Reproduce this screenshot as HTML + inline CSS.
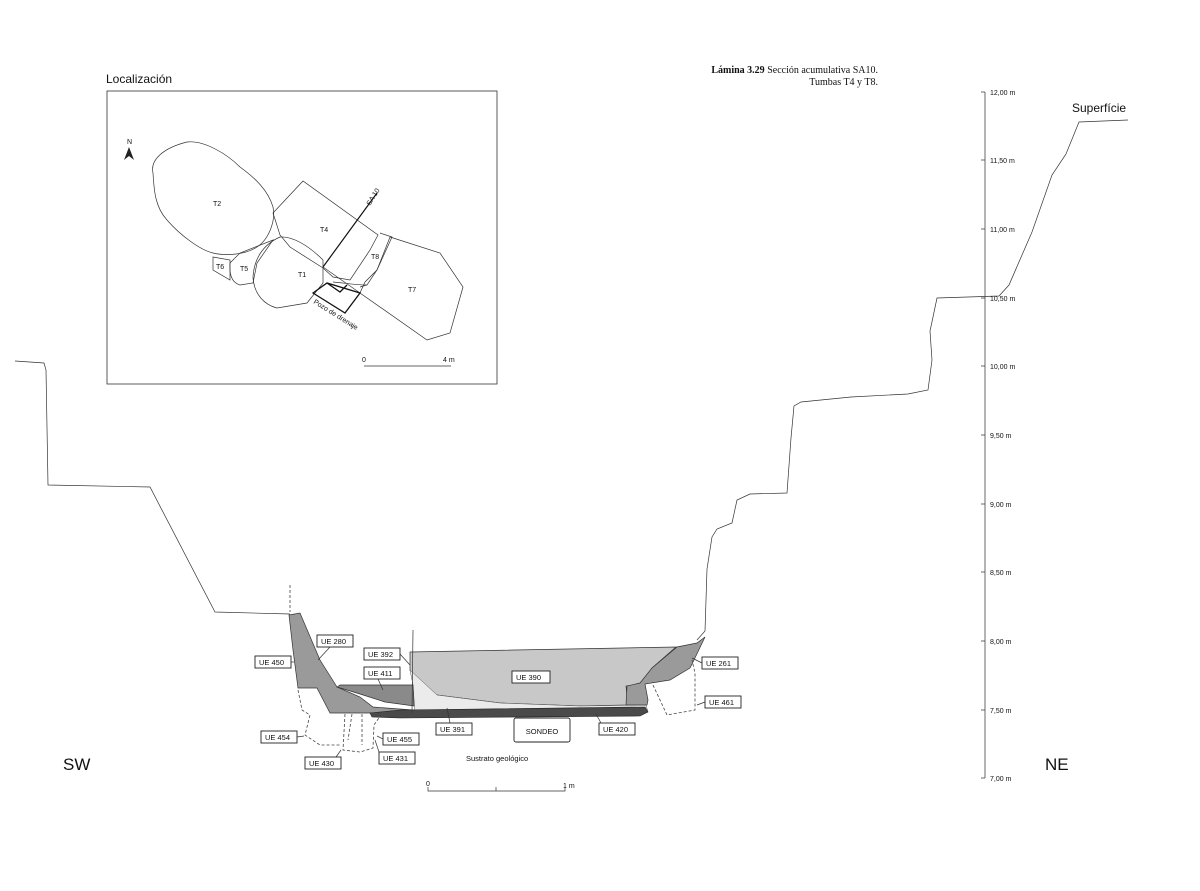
<!DOCTYPE html>
<html><head><meta charset="utf-8"><style>
html,body{margin:0;padding:0;background:#fff;}
svg{display:block;}
text{font-family:"Liberation Sans",sans-serif;fill:#111;}
.s{font-family:"Liberation Serif",serif;}
.b{fill:#fff;stroke:#222;stroke-width:0.9;}
.l{stroke:#333;stroke-width:0.7;fill:none;}
.d{stroke:#444;stroke-width:0.8;fill:none;stroke-dasharray:3,2;}
</style></head><body>
<svg width="1200" height="891" viewBox="0 0 1200 891" xmlns="http://www.w3.org/2000/svg">
<!-- title -->
<text class="s" x="878" y="73" font-size="10" text-anchor="end"><tspan font-weight="bold">Lámina 3.29</tspan>  Sección acumulativa SA10.</text>
<text class="s" x="878" y="85" font-size="10" text-anchor="end">Tumbas T4 y T8.</text>

<!-- inset -->
<text x="106" y="83" font-size="12">Localización</text>
<rect x="107" y="91" width="390" height="293" fill="none" stroke="#333" stroke-width="0.8"/>
<g fill="none" stroke="#333" stroke-width="0.7">
<path d="M153,173 C150,160 163,148 187,142 C205,140 228,155 240,167 C255,178 268,190 273,207 C276,222 268,240 257,247 C245,255 225,256 213,253 C200,250 180,235 167,220 C155,207 154,190 153,173Z"/>
<path d="M273,213 L303,181 L378,235 L370,250 L350,280 L333,277 L323,268 L290,247 L280,235 Z"/>
<path d="M253,277 C254,260 262,245 280,237 C292,236 308,245 323,260 L323,283 L307,303 L277,308 C265,305 254,295 253,277Z"/>
<path d="M230,263 L240,253 L273,240 L257,263 L253,283 L240,285 C233,283 229,276 230,263Z"/>
<path d="M213,257 L230,260 L230,280 L213,270Z"/>
<path d="M390,237 L440,253 L463,287 L450,333 L427,340 L360,293 L365,282 L377,270 Z"/>
<path d="M380,233 L392,237 L377,270 L367,285 L360,287"/>
<path d="M323,267 L360,293 M333,282 C345,283 355,285 367,285"/>
</g>
<path d="M313,293 L327,283 L360,293 L345,313 Z M327,283 L340,292 L347,285" fill="none" stroke="#111" stroke-width="1.3"/>
<line x1="323" y1="267" x2="377" y2="193" stroke="#111" stroke-width="1.2"/>
<text x="0" y="0" font-size="7" transform="translate(370,206) rotate(-58)">SA 10</text>
<text x="0" y="0" font-size="7" transform="translate(313,303) rotate(32)">Pozo de drenaje</text>
<text x="127" y="144" font-size="7">N</text>
<path d="M129,147 L134,160 L129,156 L124,160 Z" fill="#222"/>
<g font-size="7"><text x="213" y="206">T2</text><text x="320" y="232">T4</text><text x="298" y="277">T1</text><text x="240" y="271">T5</text><text x="216" y="269">T6</text><text x="408" y="292">T7</text><text x="371" y="259">T8</text>
<text x="362" y="362">0</text><text x="443" y="362">4 m</text></g>
<line x1="364" y1="366" x2="451" y2="366" stroke="#333" stroke-width="0.7"/>

<!-- left profile -->
<polyline class="l" points="15,361 44,363 46,370 48,485 150,487 215,612 290,614" stroke-width="0.8"/>
<line class="d" x1="290" y1="585" x2="290" y2="612"/>

<!-- right profile -->
<polyline class="l" stroke-width="0.8" points="1128,120 1079,122 1066,154 1052,175 1032,232 1009,285 999,296 937,298 933,317 930,331 932,360 928,390 908,394 851,397 801,402 794,406 791,438 787,493 750,494 737,500 732,523 717,529 712,537 707,569 705,631 697,640"/>
<text x="1072" y="112" font-size="12">Superfície</text>

<!-- axis -->
<line x1="985" y1="92" x2="985" y2="778" stroke="#444" stroke-width="0.8"/>
<g stroke="#444" stroke-width="0.8">
<line x1="981" y1="92" x2="985" y2="92"/><line x1="981" y1="160" x2="985" y2="160"/><line x1="981" y1="229" x2="985" y2="229"/><line x1="981" y1="298" x2="985" y2="298"/><line x1="981" y1="366" x2="985" y2="366"/><line x1="981" y1="435" x2="985" y2="435"/><line x1="981" y1="504" x2="985" y2="504"/><line x1="981" y1="572" x2="985" y2="572"/><line x1="981" y1="641" x2="985" y2="641"/><line x1="981" y1="710" x2="985" y2="710"/><line x1="981" y1="778" x2="985" y2="778"/>
</g>
<g font-size="7"><text x="990" y="95">12,00 m</text><text x="990" y="163">11,50 m</text><text x="990" y="232">11,00 m</text><text x="990" y="301">10,50 m</text><text x="990" y="369">10,00 m</text><text x="990" y="438">9,50 m</text><text x="990" y="507">9,00 m</text><text x="990" y="575">8,50 m</text><text x="990" y="644">8,00 m</text><text x="990" y="713">7,50 m</text><text x="990" y="781">7,00 m</text></g>

<text x="63" y="770" font-size="17">SW</text>
<text x="1045" y="770" font-size="17">NE</text>

<!-- section fills -->
<path d="M410,652 L676,647 L652,668 L643,684 L626,686 L628,705 L580,706 L500,703 L437,695 L415,683 L410,670 Z" fill="#c8c8c8" stroke="#333" stroke-width="0.7"/>
<path d="M410,670 L437,695 L500,703 L580,706 L646,705 L648,712 L500,713 L415,713 L413,685 Z" fill="#ebebeb" stroke="#555" stroke-width="0.5"/>
<path d="M289,615 L300,613 L320,660 L337,687 L360,697 L373,707 L413,710 L413,713 L330,713 L317,688 L298,688 L293,650 Z" fill="#9a9a9a" stroke="#333" stroke-width="0.7"/>
<path d="M337,687 L340,685 L413,685 L414,706 L385,702 L360,694 Z" fill="#8a8a8a" stroke="#333" stroke-width="0.7"/>
<path d="M626,705 L627,686 L640,683 L652,668 L677,647 L697,643 L705,637 L694,660 L690,668 L670,680 L645,684 L648,700 L647,705 Z" fill="#9a9a9a" stroke="#333" stroke-width="0.7"/>
<path d="M370,713 L400,710 L645,707 L648,712 L640,716 L400,718 L372,717 Z" fill="#4a4a4a" stroke="#222" stroke-width="0.6"/>
<line x1="413" y1="630" x2="412" y2="713" stroke="#333" stroke-width="0.7"/>
<rect x="514" y="718" width="56" height="24" rx="2" class="b" stroke-width="0.8"/>
<text x="542" y="734" font-size="7.5" text-anchor="middle">SONDEO</text>

<!-- dashed pits -->
<path class="d" d="M298,690 L302,710 L310,715 L305,735 L320,745 L340,745"/>
<path class="d" d="M345,714 L343,750 L360,752 L373,748 L374,725 L381,715"/>
<path class="d" d="M352,714 L348,740 M362,714 L362,745"/>
<path class="d" d="M653,685 L667,715 L695,710 L695,673 L692,660"/>

<!-- leaders -->
<g class="l">
<line x1="330" y1="647" x2="318" y2="660"/>
<line x1="291" y1="662" x2="294" y2="662"/>
<line x1="400" y1="654" x2="410" y2="665"/>
<line x1="378" y1="679" x2="383" y2="690"/>
<line x1="450" y1="723" x2="447" y2="708"/>
<line x1="601" y1="723" x2="596" y2="714"/>
<line x1="297" y1="737" x2="304" y2="736"/>
<line x1="383" y1="739" x2="377" y2="736"/>
<line x1="336" y1="757" x2="341" y2="750"/>
<line x1="380" y1="755" x2="375" y2="740"/>
<line x1="702" y1="663" x2="692" y2="658"/>
<line x1="705" y1="702" x2="697" y2="705"/>
</g>
<!-- label boxes -->
<g font-size="7.5">
<rect class="b" x="317" y="635" width="36" height="12"/><text x="321" y="644">UE 280</text>
<rect class="b" x="255" y="656" width="36" height="12"/><text x="259" y="665">UE 450</text>
<rect class="b" x="364" y="648" width="36" height="12"/><text x="368" y="657">UE 392</text>
<rect class="b" x="364" y="667" width="36" height="12"/><text x="368" y="676">UE 411</text>
<rect class="b" x="512" y="671" width="38" height="12"/><text x="516" y="680">UE 390</text>
<rect class="b" x="436" y="723" width="36" height="12"/><text x="440" y="732">UE 391</text>
<rect class="b" x="599" y="723" width="36" height="12"/><text x="603" y="732">UE 420</text>
<rect class="b" x="261" y="731" width="36" height="12"/><text x="265" y="740">UE 454</text>
<rect class="b" x="383" y="733" width="36" height="12"/><text x="387" y="742">UE 455</text>
<rect class="b" x="305" y="757" width="36" height="12"/><text x="309" y="766">UE 430</text>
<rect class="b" x="379" y="752" width="36" height="12"/><text x="383" y="761">UE 431</text>
<rect class="b" x="702" y="657" width="36" height="12"/><text x="706" y="666">UE 261</text>
<rect class="b" x="705" y="696" width="36" height="12"/><text x="709" y="705">UE 461</text>
</g>
<text x="466" y="761" font-size="7.5">Sustrato geológico</text>
<path d="M428,787 L428,791 L565,791 L565,787 M496,787 L496,791" fill="none" stroke="#333" stroke-width="0.7"/>
<text x="426" y="786" font-size="7">0</text>
<text x="563" y="788" font-size="7">1 m</text>
</svg>
</body></html>
